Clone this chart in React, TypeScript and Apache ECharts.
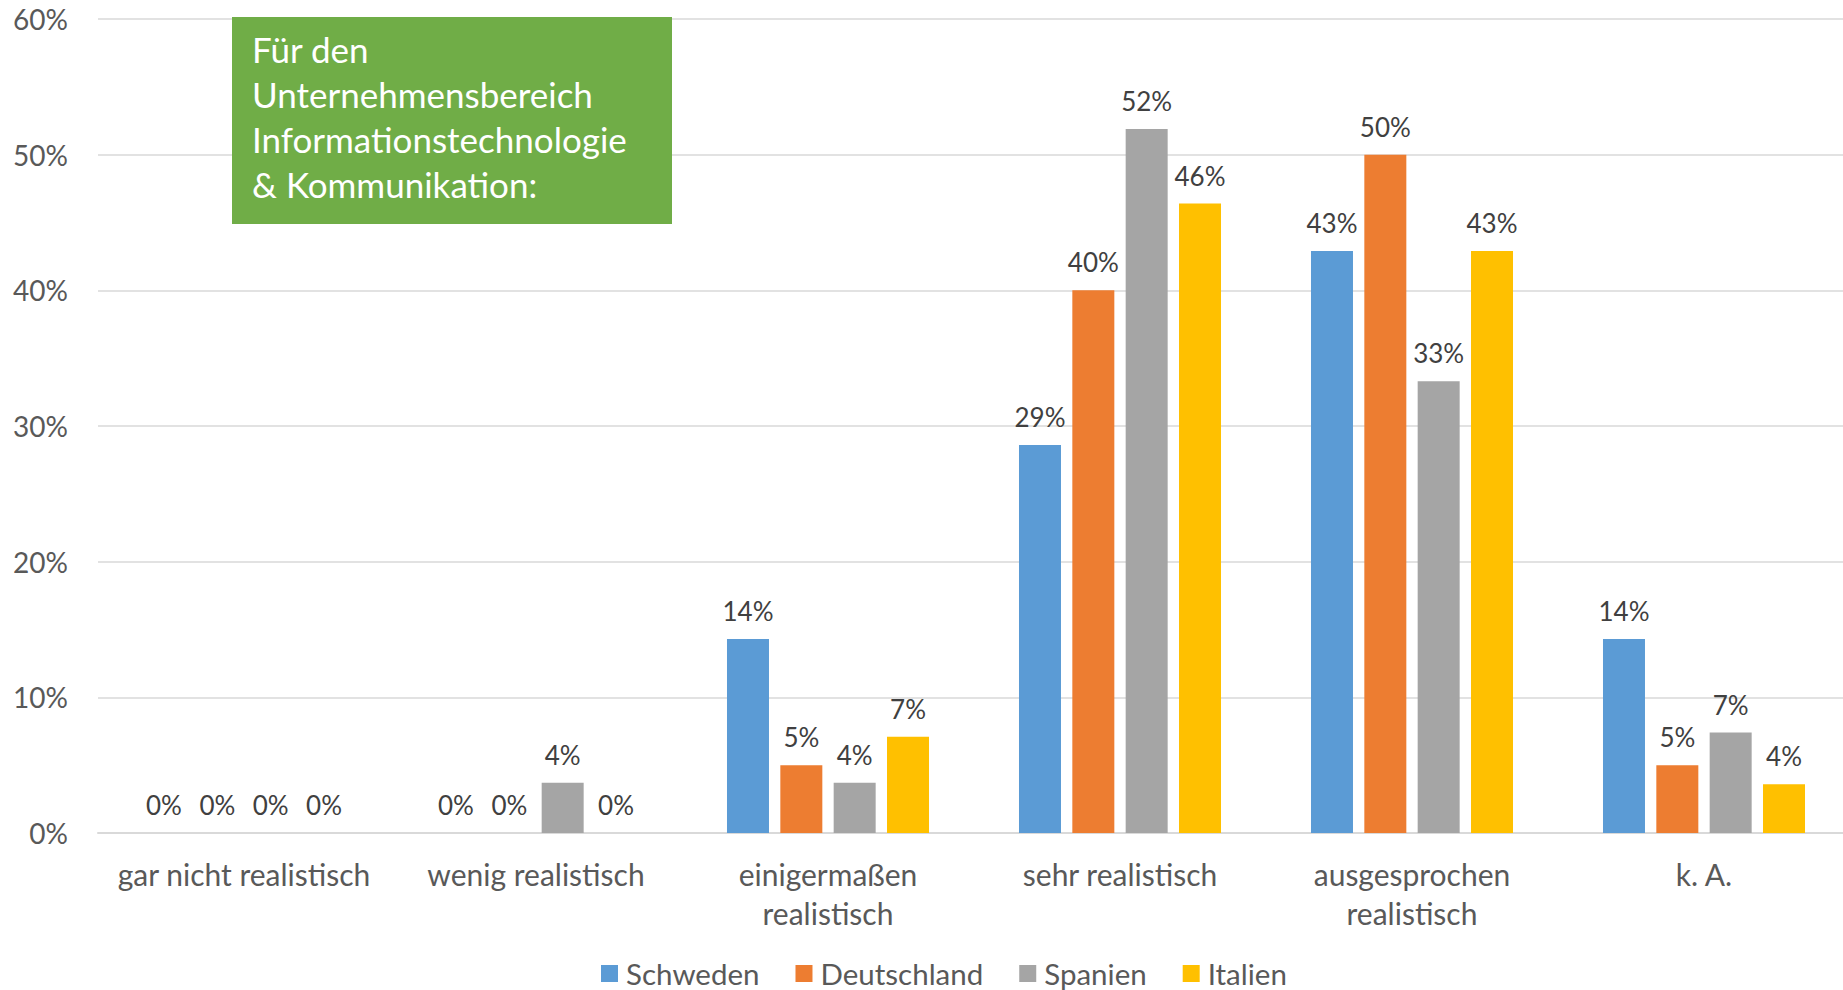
import React, { useEffect, useRef } from "react";
import * as echarts from "echarts";

const categories = [
  "gar nicht realistisch",
  "wenig realistisch",
  "einigermaßen\nrealistisch",
  "sehr realistisch",
  "ausgesprochen\nrealistisch",
  "k. A.",
];
const seriesNames = ["Schweden", "Deutschland", "Spanien", "Italien"];
const schweden = [0, 0, 14.3, 28.6, 42.9, 14.3];
const deutschland = [0, 0, 5, 40, 50, 5];
const spanien = [0, 3.7, 3.7, 51.9, 33.3, 7.4];
const italien = [0, 0, 7.1, 46.4, 42.9, 3.6];
const colors = ["#5B9BD5", "#ED7D31", "#A5A5A5", "#FFC000"];
const boxLines = ["Für den", "Unternehmensbereich", "Informationstechnologie", "& Kommunikation:"];

const FONT = "Lato";

export default function App() {
  const ref = useRef<HTMLDivElement>(null);
  useEffect(() => {
    if (!ref.current) return;
    const chart = echarts.init(ref.current, null, { renderer: "svg" });
    const data = [schweden, deutschland, spanien, italien];
    chart.setOption({
      animation: false,
      backgroundColor: "#ffffff",
      textStyle: { fontFamily: FONT },
      grid: {
        left: 98,
        right: -7,
        top: 19,
        bottom: 157,
        containLabel: false,
        outerBoundsMode: "none",
      },
      legend: {
        bottom: -3.5,
        left: 596,
        itemWidth: 17,
        itemHeight: 17,
        itemGap: 36,
        icon: "rect",
        textStyle: { fontFamily: FONT, fontSize: 29.5, color: "#595959", padding: [0, 0, 0, 3] },
        data: seriesNames,
      },
      xAxis: {
        type: "category",
        data: categories,
        axisLine: { lineStyle: { color: "#d9d9d9", width: 2 } },
        axisTick: { show: false },
        axisLabel: {
          interval: 0,
          fontFamily: FONT,
          fontSize: 30,
          color: "#595959",
          lineHeight: 39,
          margin: 21,
        },
      },
      yAxis: {
        type: "value",
        min: 0,
        max: 60,
        interval: 10,
        axisLine: { show: false },
        axisTick: { show: false },
        splitLine: { lineStyle: { color: "#d9d9d9", width: 1.5 } },
        axisLabel: {
          formatter: "{value}%",
          fontFamily: FONT,
          fontSize: 28,
          color: "#595959",
          margin: 30,
        },
      },
      series: seriesNames.map((name, i) => ({
        name,
        type: "bar",
        data: data[i],
        barWidth: 42,
        barGap: "27%",
        itemStyle: { color: colors[i] },
        label: {
          show: true,
          position: "top",
          distance: 15,
          fontFamily: FONT,
          fontSize: 26,
          color: "#404040",
          formatter: (p: any) => Math.round(p.value) + "%",
        },
      })),
      graphic: [
        {
          type: "rect",
          left: 232,
          top: 17,
          shape: { width: 440, height: 207 },
          style: { fill: "#70AD47" },
          z: 10,
        },
        {
          type: "text",
          left: 252,
          top: 26.5,
          z: 11,
          style: {
            text: boxLines.join("\n"),
            fill: "#ffffff",
            font: `35px ${FONT}`,
            lineHeight: 45,
          },
        },
      ],
    });
    return () => chart.dispose();
  }, []);
  return (
    <div
      ref={ref}
      style={{ position: "fixed", left: 0, top: 0, width: 1843, height: 990 }}
    />
  );
}
